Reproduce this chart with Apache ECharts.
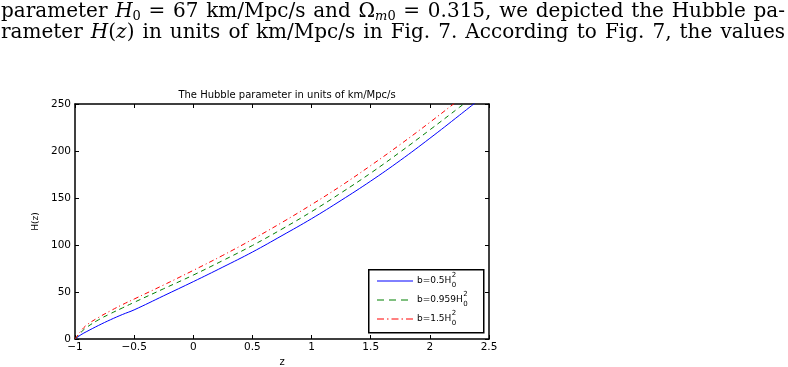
<!DOCTYPE html>
<html>
<head>
<meta charset="utf-8">
<script src="https://cdn.jsdelivr.net/npm/echarts@6/dist/echarts.min.js"></script>
<style>
  html, body { margin: 0; padding: 0; background: #fff; }
  #wrap { position: relative; width: 788px; height: 367px; overflow: hidden; }
  #chart { position: absolute; left: 0; top: 0; width: 788px; height: 367px; }
  #para { position: absolute; left: 1px; top: 0px; width: 784px;
          font-family: "DejaVu Serif", "Liberation Serif", serif; font-size: 20px;
          line-height: 21px; color: #000; }
  #para .l { display: block; white-space: nowrap; text-align: justify; text-align-last: justify; }
  #para i { font-style: italic; }
  #para sub { font-size: 13px; vertical-align: -3px; line-height: 0; }
</style>
</head>
<body>
<div id="wrap">
  <div id="chart"></div>
  <div id="para">
    <span class="l">parameter <i>H</i><sub>0</sub> = 67 km/Mpc/s and Ω<sub><i>m</i>0</sub> = 0.315, we depicted the Hubble pa-</span>
    <span class="l">rameter <i>H</i>(<i>z</i>) in units of km/Mpc/s in Fig. 7. According to Fig. 7, the values</span>
  </div>
</div>
<script>
// ---- data ----
const zValues   = [-1, -0.95, -0.9, -0.8, -0.7, -0.6, -0.5, -0.25, 0, 0.25, 0.5, 0.75, 1, 1.25, 1.5, 1.75, 2, 2.25, 2.5];
const hB05      = [0, 4.5, 8, 14.5, 20.5, 26, 31, 46, 61, 76.5, 92.5, 110, 128, 147.5, 168, 190, 213.5, 238, 263];
const hB0959    = [0, 7, 12.5, 20.5, 27, 33, 39, 53.5, 68, 83.5, 99.5, 117, 135.5, 155.5, 176.5, 199, 222.5, 246.5, 271];
const hB15      = [0, 8.5, 15, 23, 30, 36.5, 42.5, 57.5, 73, 89, 106, 124, 143, 163, 184.5, 207, 230.5, 255, 280];
const seriesNames = ['b=0.5H', 'b=0.959H', 'b=1.5H'];
const xTicks = [-1, -0.5, 0, 0.5, 1, 1.5, 2, 2.5];
const yTicks = [0, 50, 100, 150, 200, 250];
const titleText = 'The Hubble parameter in units of km/Mpc/s';

const pairs = arr => zValues.map((z, i) => [z, arr[i]]);
const fmtX = v => String(v).replace('-', '\u2212');

const F = '"DejaVu Sans", "Liberation Sans", sans-serif';
const tickStyle = { color: '#000', fontFamily: F, fontSize: 10.5 };

const chart = echarts.init(document.getElementById('chart'), null, { renderer: 'canvas' });

// legend drawn as graphic group (MATLAB style box with stacked super/subscripts)
const legX = 368, legY = 269, legW = 115, legH = 63;
const rowY = [281, 300, 319];
const legStyles = [
  { color: '#0000ff', dash: null },
  { color: '#008000', dash: [7, 5] },
  { color: '#ff0000', dash: [7, 3, 1.5, 3] }
];
const legFont = '9px ' + F;
const graphics = [{
  type: 'rect', left: legX, top: legY, z: 100,
  shape: { width: legW, height: legH },
  style: { fill: '#fff', stroke: '#000', lineWidth: 1.5 }
}];
seriesNames.forEach((n, i) => {
  graphics.push({
    type: 'line', z: 101,
    shape: { x1: legX + 9, y1: rowY[i], x2: legX + 45, y2: rowY[i] },
    style: { stroke: legStyles[i].color, lineWidth: 1, lineDash: legStyles[i].dash }
  });
  graphics.push({
    type: 'text', z: 101, left: legX + 49, top: rowY[i] - 5,
    style: { text: n, fill: '#000', font: legFont }
  });
  const w = echarts.format.getTextRect ? echarts.format.getTextRect(n, legFont).width : n.length * 6;
  const x0 = legX + 49 + w;
  graphics.push({ type: 'text', z: 101, left: x0 + 0.5, top: rowY[i] - 9,
    style: { text: '2', fill: '#000', font: '7px ' + F } });
  graphics.push({ type: 'text', z: 101, left: x0 + 0.5, top: rowY[i] + 1,
    style: { text: '0', fill: '#000', font: '7px ' + F } });
});

const option = {
  animation: false,
  backgroundColor: '#fff',
  title: {
    text: titleText, left: 282, top: 85, textAlign: 'center',
    textStyle: { fontFamily: F, fontSize: 10, fontWeight: 'normal', color: '#000' }
  },
  grid: { left: 75, right: 299, top: 104, bottom: 28, containLabel: false, outerBoundsMode: 'none' },
  xAxis: [{
    type: 'value', min: -1, max: 2.5, interval: 0.5, position: 'bottom',
    name: 'z', nameLocation: 'middle', nameGap: 13,
    nameTextStyle: { fontFamily: F, fontSize: 10, color: '#000' },
    axisLine: { lineStyle: { color: '#000', width: 1.5 } },
    axisTick: { inside: true, length: 4, lineStyle: { color: '#000', width: 1 } },
    axisLabel: Object.assign({ formatter: fmtX, margin: 3 }, tickStyle),
    splitLine: { show: false }
  }, {
    type: 'value', min: -1, max: 2.5, interval: 0.5, position: 'top',
    axisLine: { onZero: false, lineStyle: { color: '#000', width: 1.5 } },
    axisTick: { inside: true, length: 4, lineStyle: { color: '#000', width: 1 } },
    axisLabel: { show: false }, splitLine: { show: false }
  }],
  yAxis: [{
    type: 'value', min: 0, max: 250, interval: 50, position: 'left',
    name: 'H(z)', nameLocation: 'middle', nameGap: 35, nameRotate: 90,
    nameTextStyle: { fontFamily: F, fontSize: 9, color: '#000' },
    axisLine: { show: true, onZero: false, lineStyle: { color: '#000', width: 1.5 } },
    axisTick: { show: true, inside: true, length: 4, lineStyle: { color: '#000', width: 1 } },
    axisLabel: Object.assign({ margin: 4 }, tickStyle),
    splitLine: { show: false }
  }, {
    type: 'value', min: 0, max: 250, interval: 50, position: 'right',
    axisLine: { show: true, onZero: false, lineStyle: { color: '#000', width: 1.5 } },
    axisTick: { show: true, inside: true, length: 4, lineStyle: { color: '#000', width: 1 } },
    axisLabel: { show: false }, splitLine: { show: false }
  }],
  series: [
    { name: seriesNames[0], type: 'line', data: pairs(hB05), showSymbol: false, smooth: 0.4, clip: true,
      lineStyle: { color: '#0000ff', width: 1, type: 'solid' } },
    { name: seriesNames[1], type: 'line', data: pairs(hB0959), showSymbol: false, smooth: 0.4, clip: true,
      lineStyle: { color: '#008000', width: 1, type: [5, 4] } },
    { name: seriesNames[2], type: 'line', data: pairs(hB15), showSymbol: false, smooth: 0.4, clip: true,
      lineStyle: { color: '#ff0000', width: 1, type: [5, 3, 1, 3] } }
  ],
  graphic: graphics
};
chart.setOption(option);
</script>
</body>
</html>
